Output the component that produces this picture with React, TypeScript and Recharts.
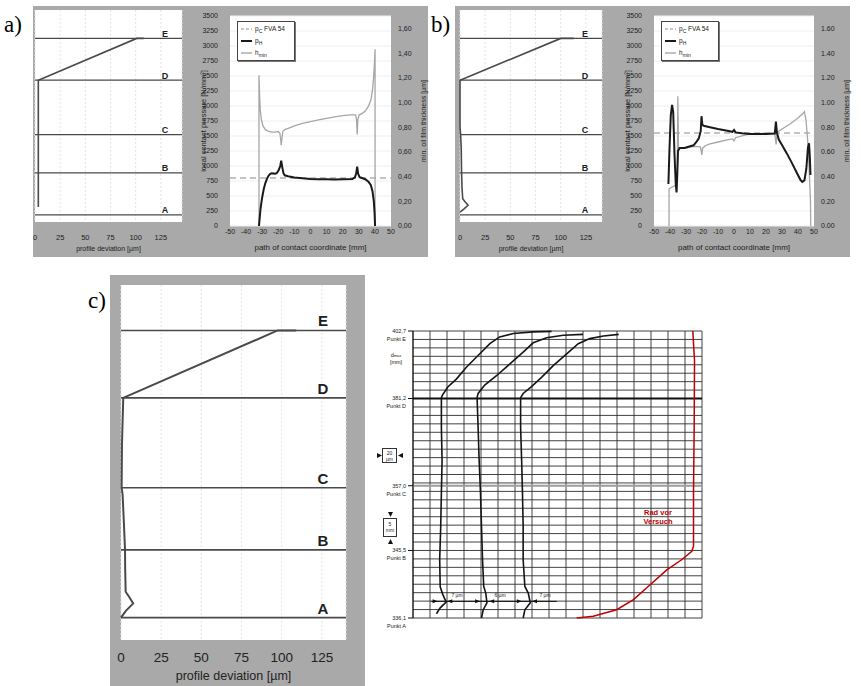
import React from 'react'
import {
  LineChart,
  ComposedChart,
  Line,
  Scatter,
  XAxis,
  YAxis,
  CartesianGrid,
  ReferenceLine,
  Legend,
} from 'recharts'

const PANEL_GRAY = '#a9a9a9'
const SANS = "'Liberation Sans', Arial, sans-serif"
const SERIF = "'Liberation Serif', 'DejaVu Serif', serif"

// ---- profile charts: flank position in % of plot height ----
const POINT_NAMES = ['A', 'B', 'C', 'D', 'E']
const POINT_POS_AB = [3.4, 23.2, 41.2, 66.9, 86.6]
const POINT_POS_C = [6.3, 25.4, 42.9, 68.2, 87.2]
const DEVIATION_TICKS = [0, 25, 50, 75, 100, 125]

const profileA = [
  { dev: 3.3, pos: 7.1 },
  { dev: 3.3, pos: 66.9 },
  { dev: 101, pos: 86.6 },
  { dev: 108, pos: 86.6 },
]
const profileB = [
  { dev: 0, pos: 4.7 },
  { dev: 4, pos: 6.2 },
  { dev: 8, pos: 7.9 },
  { dev: 5, pos: 9.6 },
  { dev: 2.7, pos: 11 },
  { dev: 2, pos: 16 },
  { dev: 1.5, pos: 25 },
  { dev: 1.2, pos: 35 },
  { dev: 0.6, pos: 41.2 },
  { dev: 0, pos: 45 },
  { dev: 0, pos: 66.9 },
  { dev: 100, pos: 86.6 },
  { dev: 113, pos: 86.6 },
]
const profileC = [
  { dev: 0, pos: 6.3 },
  { dev: 3, pos: 8.2 },
  { dev: 7.6, pos: 10.3 },
  { dev: 5, pos: 12.2 },
  { dev: 2.9, pos: 13.6 },
  { dev: 2.6, pos: 20 },
  { dev: 2.5, pos: 25.4 },
  { dev: 1.8, pos: 33 },
  { dev: 1, pos: 40.9 },
  { dev: 0.4, pos: 42.9 },
  { dev: 0.6, pos: 55 },
  { dev: 1.4, pos: 68.2 },
  { dev: 97.5, pos: 87.2 },
  { dev: 109, pos: 87.2 },
]

// ---- contact pressure / film thickness ----
const PATH_TICKS = [-50, -40, -30, -20, -10, 0, 10, 20, 30, 40, 50]
const PRESSURE_TICKS = [0, 250, 500, 750, 1000, 1250, 1500, 1750, 2000, 2250, 2500, 2750, 3000, 3250, 3500]
const FILM_TICKS = [0, 0.2, 0.4, 0.6, 0.8, 1.0, 1.2, 1.4, 1.6]

const pcA = [{ x: -50, p: 800 }, { x: 50, p: 800 }]
const pHA = [
  { x: -32, p: 0 }, { x: -31.5, p: 150 }, { x: -31, p: 300 }, { x: -30, p: 480 },
  { x: -29, p: 620 }, { x: -28, p: 720 }, { x: -27, p: 790 }, { x: -26, p: 840 },
  { x: -25, p: 870 }, { x: -24, p: 880 }, { x: -23, p: 875 }, { x: -22, p: 870 },
  { x: -21, p: 880 }, { x: -19.8, p: 930 }, { x: -18.8, p: 1000 }, { x: -18.2, p: 1090 },
  { x: -17.6, p: 990 }, { x: -16.8, p: 880 }, { x: -16, p: 845 }, { x: -14, p: 830 },
  { x: -10, p: 810 }, { x: -5, p: 795 }, { x: 0, p: 785 }, { x: 5, p: 780 },
  { x: 10, p: 778 }, { x: 15, p: 776 }, { x: 20, p: 778 }, { x: 26, p: 782 },
  { x: 27.6, p: 810 }, { x: 28.4, p: 880 }, { x: 29, p: 990 }, { x: 29.6, p: 870 },
  { x: 30.5, p: 815 }, { x: 32, p: 800 }, { x: 34, p: 780 }, { x: 36, p: 740 },
  { x: 37.5, p: 680 }, { x: 38.5, p: 580 }, { x: 39.3, p: 420 }, { x: 39.8, p: 220 },
  { x: 40.1, p: 0 },
]
const hMinA = [
  { x: -32, h: 0 }, { x: -32, h: 1.22 }, { x: -31.6, h: 1.05 }, { x: -31.2, h: 0.94 },
  { x: -30.5, h: 0.86 }, { x: -29.5, h: 0.81 }, { x: -28, h: 0.78 }, { x: -26, h: 0.765 },
  { x: -24, h: 0.76 }, { x: -22, h: 0.76 }, { x: -20, h: 0.765 }, { x: -19, h: 0.75 },
  { x: -18.5, h: 0.7 }, { x: -18.2, h: 0.655 }, { x: -17.8, h: 0.7 }, { x: -17.2, h: 0.765 },
  { x: -16, h: 0.78 }, { x: -13, h: 0.795 }, { x: -10, h: 0.81 }, { x: -5, h: 0.83 },
  { x: 0, h: 0.845 }, { x: 5, h: 0.86 }, { x: 10, h: 0.872 }, { x: 15, h: 0.884 },
  { x: 20, h: 0.893 }, { x: 25, h: 0.9 }, { x: 28, h: 0.9 }, { x: 28.6, h: 0.86 },
  { x: 29, h: 0.74 }, { x: 29.4, h: 0.86 }, { x: 30.2, h: 0.9 }, { x: 32, h: 0.91 },
  { x: 34, h: 0.93 }, { x: 36, h: 0.97 }, { x: 37.5, h: 1.02 }, { x: 38.5, h: 1.1 },
  { x: 39.3, h: 1.22 }, { x: 39.8, h: 1.34 }, { x: 40.1, h: 1.43 }, { x: 40.1, h: 0 },
]

const pcB = [{ x: -50, p: 1550 }, { x: 50, p: 1550 }]
const pHB = [
  { x: -41, p: 700 }, { x: -40.3, p: 1300 }, { x: -39.5, p: 1850 }, { x: -38.7, p: 2020 },
  { x: -38, p: 1900 }, { x: -37.2, p: 1200 }, { x: -36.4, p: 700 }, { x: -35.9, p: 560 },
  { x: -35.4, p: 900 }, { x: -35, p: 1250 }, { x: -34, p: 1300 }, { x: -31, p: 1300 },
  { x: -28.4, p: 1320 }, { x: -25.3, p: 1345 }, { x: -23.5, p: 1400 }, { x: -22, p: 1460 },
  { x: -20.8, p: 1580 }, { x: -20.3, p: 1830 }, { x: -19.8, p: 1690 }, { x: -19, p: 1670 },
  { x: -15, p: 1645 }, { x: -10, p: 1615 }, { x: -5, p: 1590 }, { x: -1, p: 1570 },
  { x: 0, p: 1600 }, { x: 1, p: 1560 }, { x: 5, p: 1545 }, { x: 10, p: 1535 },
  { x: 20, p: 1535 }, { x: 25.5, p: 1540 }, { x: 26.2, p: 1740 }, { x: 26.8, p: 1560 },
  { x: 28, p: 1440 }, { x: 30, p: 1350 }, { x: 33, p: 1210 }, { x: 36, p: 1060 },
  { x: 39, p: 900 }, { x: 41.5, p: 770 }, { x: 42.7, p: 735 }, { x: 44, p: 760 },
  { x: 45.2, p: 950 }, { x: 46.2, p: 1300 }, { x: 46.9, p: 1380 }, { x: 47.4, p: 1150 },
  { x: 47.8, p: 850 },
]
const hMinB = [
  { x: -40.6, h: 0 }, { x: -40.6, h: 0.3 }, { x: -39.5, h: 0.31 }, { x: -38, h: 0.32 },
  { x: -36.5, h: 0.33 }, { x: -35.5, h: 0.4 }, { x: -35.1, h: 1.05 }, { x: -34.7, h: 0.62 },
  { x: -33, h: 0.63 }, { x: -30, h: 0.63 }, { x: -27, h: 0.64 }, { x: -24, h: 0.645 },
  { x: -21, h: 0.64 }, { x: -20.4, h: 0.6 }, { x: -20.1, h: 0.575 }, { x: -19.6, h: 0.63 },
  { x: -18, h: 0.65 }, { x: -15, h: 0.665 }, { x: -10, h: 0.68 }, { x: -5, h: 0.695 },
  { x: -1, h: 0.705 }, { x: 0, h: 0.69 }, { x: 1, h: 0.715 }, { x: 5, h: 0.73 },
  { x: 10, h: 0.745 }, { x: 20, h: 0.75 }, { x: 25.5, h: 0.75 }, { x: 26.3, h: 0.66 },
  { x: 27, h: 0.76 }, { x: 30, h: 0.785 }, { x: 35, h: 0.825 }, { x: 40, h: 0.875 },
  { x: 43, h: 0.91 }, { x: 44, h: 0.925 }, { x: 45, h: 0.86 }, { x: 46, h: 0.7 },
  { x: 47, h: 0.45 }, { x: 47.8, h: 0.2 }, { x: 48, h: 0 },
]

// ---- wheel profile measurement (grid columns / rows) ----
const MEAS_COLS = Array.from({ length: 18 }, (_, i) => i)
const MEAS_ROWS = Array.from({ length: 35 }, (_, i) => i)
const MEAS_TICKS = [0, 8, 15.67, 26, 34]
const MEAS_TICK_VALUES = ['336,1', '345,5', '357,0', '381,2', '402,7']
const MEAS_TICK_NAMES = ['Punkt A', 'Punkt B', 'Punkt C', 'Punkt D', 'Punkt E']

const trace1 = [
  { col: 1.38, row: 0.5 }, { col: 1.6, row: 1.2 }, { col: 1.95, row: 1.9 }, { col: 1.75, row: 2.8 },
  { col: 1.6, row: 3.7 }, { col: 1.57, row: 6.9 }, { col: 1.63, row: 10.8 }, { col: 1.67, row: 14.8 },
  { col: 1.71, row: 18.7 }, { col: 1.67, row: 22.6 }, { col: 1.67, row: 26.1 }, { col: 1.73, row: 26.4 },
  { col: 2.06, row: 27.4 }, { col: 2.55, row: 28.3 }, { col: 3.14, row: 29.7 }, { col: 3.93, row: 31.3 },
  { col: 4.52, row: 32.5 }, { col: 5.1, row: 33.3 }, { col: 5.9, row: 33.7 }, { col: 7.07, row: 33.9 },
  { col: 8.15, row: 33.95 },
]
const trace2 = [
  { col: 4.03, row: 0 }, { col: 4.13, row: 0.98 }, { col: 4.35, row: 1.8 }, { col: 4.28, row: 2.95 },
  { col: 4.16, row: 3.74 }, { col: 4.09, row: 6.9 }, { col: 4.03, row: 10.8 }, { col: 3.97, row: 14.8 },
  { col: 3.89, row: 18.7 }, { col: 3.83, row: 22.6 }, { col: 3.77, row: 26.1 }, { col: 3.83, row: 26.6 },
  { col: 4.22, row: 27.6 }, { col: 4.91, row: 28.7 }, { col: 5.7, row: 30.1 }, { col: 6.48, row: 31.5 },
  { col: 7.07, row: 32.6 }, { col: 7.86, row: 33.2 }, { col: 8.84, row: 33.5 }, { col: 10.0, row: 33.6 },
]
const trace3 = [
  { col: 6.48, row: 0 }, { col: 6.58, row: 0.98 }, { col: 6.9, row: 1.8 }, { col: 6.78, row: 2.95 },
  { col: 6.58, row: 3.74 }, { col: 6.48, row: 6.9 }, { col: 6.48, row: 10.8 }, { col: 6.44, row: 14.8 },
  { col: 6.39, row: 18.7 }, { col: 6.33, row: 22.6 }, { col: 6.33, row: 26.1 }, { col: 6.48, row: 26.6 },
  { col: 6.97, row: 27.4 }, { col: 7.56, row: 28.5 }, { col: 8.25, row: 29.9 }, { col: 9.04, row: 31.3 },
  { col: 9.72, row: 32.5 }, { col: 10.4, row: 33.1 }, { col: 11.2, row: 33.4 }, { col: 12.1, row: 33.6 },
]
const wheelBefore = [
  { col: 9.63, row: 0 }, { col: 10.6, row: 0.2 }, { col: 11.98, row: 0.98 }, { col: 12.97, row: 2.17 },
  { col: 13.95, row: 3.94 }, { col: 14.93, row: 5.7 }, { col: 15.8, row: 6.9 }, { col: 16.4, row: 7.9 },
  { col: 16.5, row: 8.5 }, { col: 16.5, row: 14.8 }, { col: 16.54, row: 22.6 }, { col: 16.56, row: 30.5 },
  { col: 16.5, row: 32.5 }, { col: 16.46, row: 34 },
]
const dimArrows = [
  { col: 1.45, row: 1.97, dir: 1 }, { col: 2.02, row: 1.97, dir: -1 },
  { col: 3.95, row: 1.97, dir: 1 }, { col: 4.48, row: 1.97, dir: -1 },
  { col: 6.4, row: 1.97, dir: 1 }, { col: 7.0, row: 1.97, dir: -1 },
]

const PointLetter = (props: any) => {
  const { viewBox, letter, fs, inset, lift } = props
  if (!viewBox) return null
  return (
    <text x={viewBox.x + viewBox.width - inset} y={viewBox.y - lift} textAnchor="middle"
      fontSize={fs} fontWeight="bold" fill="#1e1e1e" fontFamily={SANS}>
      {letter}
    </text>
  )
}

const AxisTitle = (props: any) => {
  const { viewBox, caption, fs, shift } = props
  if (!viewBox) return null
  return (
    <text x={viewBox.x + viewBox.width / 2} y={viewBox.y + shift} textAnchor="middle"
      dominantBaseline="central" fontSize={fs} fill="#222" fontFamily={SANS}>
      {caption}
    </text>
  )
}

const SideTitle = (props: any) => {
  const { viewBox, caption, fs, shift } = props
  if (!viewBox) return null
  const x = viewBox.x + shift
  const y = viewBox.y + viewBox.height / 2
  return (
    <text x={x} y={y} transform={`rotate(-90, ${x}, ${y})`} textAnchor="middle"
      dominantBaseline="central" fontSize={fs} fill="#222" fontFamily={SANS}>
      {caption}
    </text>
  )
}

function ProfileChart({ plotLeft, plotTop, plotW, plotH, maxDev, data, positions, big }: any) {
  const m = 8
  const axisH = big ? 44 : 32
  const tickFs = big ? 13.5 : 7.5
  return (
    <div style={{ position: 'absolute', left: plotLeft - m, top: plotTop - 4 }}>
      <LineChart width={plotW + 2 * m} height={4 + plotH + axisH}
        margin={{ top: 4, right: m, bottom: 0, left: m }}>
        <CartesianGrid fill="#fff" stroke="#e4e4e4" strokeDasharray="2 2" horizontal={false} />
        <XAxis type="number" dataKey="dev" domain={[0, maxDev]} ticks={DEVIATION_TICKS} interval={0}
          height={axisH} tickSize={0} tickMargin={big ? 12 : 12.8} axisLine={false}
          tick={{ fontSize: tickFs, fill: '#222', fontFamily: SANS }}
          label={<AxisTitle caption="profile deviation [µm]" fs={big ? 12.5 : 7} shift={big ? 36 : 26} />} />
        <YAxis type="number" dataKey="pos" domain={[0, 100]} hide />
        {positions.map((pos: number, i: number) => (
          <ReferenceLine key={POINT_NAMES[i]} y={pos} stroke="#4a4a4a" strokeWidth={big ? 1.6 : 1.2}
            label={<PointLetter letter={POINT_NAMES[i]} fs={big ? 15 : 9} inset={big ? 23 : 17} lift={big ? 4 : 1.5} />} />
        ))}
        <Line data={data} dataKey="pos" stroke="#4a4a4a" strokeWidth={big ? 2 : 1.6} dot={false}
          isAnimationActive={false} />
      </LineChart>
    </div>
  )
}

const Sub = ({ children }: any) => (
  <span style={{ fontSize: 5, position: 'relative', top: 1.5 }}>{children}</span>
)

const LegendRow = ({ kind, children }: any) => (
  <div style={{ display: 'flex', alignItems: 'center', height: 12, whiteSpace: 'nowrap' }}>
    <svg width={11} height={6} style={{ marginRight: 3, flex: 'none' }}>
      {kind === 'pc' && <line x1={0} y1={3} x2={11} y2={3} stroke="#8a8a8a" strokeWidth={1.2} strokeDasharray="3 2" />}
      {kind === 'ph' && <line x1={0} y1={3} x2={11} y2={3} stroke="#1a1a1a" strokeWidth={2} />}
      {kind === 'h' && <line x1={0} y1={3} x2={11} y2={3} stroke="#a6a6a6" strokeWidth={1.4} />}
    </svg>
    <span>{children}</span>
  </div>
)

const PressureLegend = () => (
  <div style={{
    border: '1px solid #444', background: '#fff', padding: '1px 3px', width: 50,
    fontSize: 6.5, lineHeight: '12px', color: '#222', fontFamily: SANS,
    boxShadow: '1px 1px 0 #777',
  }}>
    <LegendRow kind="pc">p<Sub>C</Sub> FVA 54</LegendRow>
    <LegendRow kind="ph">p<Sub>H</Sub></LegendRow>
    <LegendRow kind="h">h<Sub>min</Sub></LegendRow>
  </div>
)

function PressureChart({ plotLeft, plotW, pc, pH, hMin, comma }: any) {
  const yW = 36
  const rW = 40
  const mT = 4
  const plotH = 210
  const xH = 30
  const fmt = (v: number) => (comma ? v.toFixed(2).replace('.', ',') : v.toFixed(2))
  return (
    <div style={{ position: 'absolute', left: plotLeft - yW, top: 16 - mT }}>
      <LineChart width={yW + plotW + rW} height={mT + plotH + xH}
        margin={{ top: mT, right: 0, bottom: 0, left: 0 }}>
        <CartesianGrid fill="#fff" stroke="#efefef" vertical={false} yAxisId="p" />
        <XAxis type="number" dataKey="x" domain={[-50, 50]} ticks={PATH_TICKS} interval={0}
          height={xH} tickSize={0} tickMargin={3} axisLine={false}
          tick={{ fontSize: 7, fill: '#222', fontFamily: SANS }}
          label={<AxisTitle caption="path of contact coordinate [mm]" fs={8} shift={21.5} />} />
        <YAxis yAxisId="p" type="number" domain={[0, 3500]} ticks={PRESSURE_TICKS} interval={0}
          width={yW} tickSize={0} tickMargin={12} axisLine={false}
          tick={{ fontSize: 7, fill: '#222', fontFamily: SANS }}
          label={<SideTitle caption="local contact pressure [N/mm²]" fs={7.5} shift={9} />} />
        <YAxis yAxisId="h" orientation="right" type="number" domain={[0, 1.7]} ticks={FILM_TICKS}
          interval={0} tickFormatter={fmt} width={rW} tickSize={0} tickMargin={7} axisLine={false}
          tick={{ fontSize: 7, fill: '#222', fontFamily: SANS }}
          label={<SideTitle caption="min. oil film thickness [µm]" fs={7} shift={32.5} />} />
        <Line yAxisId="p" data={pc} dataKey="p" stroke="#8a8a8a" strokeWidth={1.2}
          strokeDasharray="6 4" dot={false} isAnimationActive={false} />
        <Line yAxisId="h" data={hMin} dataKey="h" stroke="#a6a6a6" strokeWidth={1.3}
          dot={false} isAnimationActive={false} />
        <Line yAxisId="p" data={pH} dataKey="p" stroke="#1a1a1a" strokeWidth={2}
          dot={false} isAnimationActive={false} />
        <Legend layout="vertical" align="center" verticalAlign="middle"
          wrapperStyle={{ left: 43, top: 9, width: 60, height: 42 }}
          content={() => <PressureLegend />} />
      </LineChart>
    </div>
  )
}

const MeasTick = (props: any) => {
  const { x, y, payload } = props
  const i = MEAS_TICKS.indexOf(payload.value)
  if (i < 0) return null
  return (
    <text x={x} y={y} textAnchor="end" fontSize={5.5} fill="#222" fontFamily={SANS}>
      <tspan x={x} dy="0.35em">{MEAS_TICK_VALUES[i]}</tspan>
      <tspan x={x} dy="8">{MEAS_TICK_NAMES[i]}</tspan>
    </text>
  )
}

const Arrowhead = (props: any) => {
  const { cx, cy, payload } = props
  if (cx == null || cy == null) return null
  const d = payload.dir
  return <path d={`M${cx},${cy} L${cx - 5 * d},${cy - 2} L${cx - 5 * d},${cy + 2} Z`} fill="#111" />
}

function MeasurementChart() {
  const yW = 50
  return (
    <div style={{ position: 'absolute', left: 413 - yW, top: 331 - 5 }}>
      <ComposedChart width={yW + 289 + 6} height={5 + 287 + 14}
        margin={{ top: 5, right: 6, bottom: 14, left: 0 }}>
        <XAxis type="number" dataKey="col" domain={[0, 17]} hide />
        <YAxis type="number" dataKey="row" domain={[0, 34]} ticks={MEAS_TICKS} interval={0}
          width={yW} tickSize={5} tickMargin={2} tickLine={{ stroke: '#111' }}
          axisLine={{ stroke: '#111' }} tick={<MeasTick />} />
        {MEAS_ROWS.map((r) => (
          <ReferenceLine key={`r${r}`} y={r} stroke="#2e2e2e" strokeWidth={0.9} />
        ))}
        {MEAS_COLS.map((c) => (
          <ReferenceLine key={`c${c}`} x={c} stroke="#2e2e2e" strokeWidth={0.9} />
        ))}
        <ReferenceLine y={15.67} stroke="#9c9c9c" strokeWidth={2} />
        <ReferenceLine y={26} stroke="#111" strokeWidth={2} />
        <ReferenceLine segment={[{ x: 1.08, y: 1.97 }, { x: 8.46, y: 1.97 }]} stroke="#111" strokeWidth={1} />
        <Line data={trace1} dataKey="row" stroke="#151515" strokeWidth={1.6} dot={false} isAnimationActive={false} />
        <Line data={trace2} dataKey="row" stroke="#151515" strokeWidth={1.6} dot={false} isAnimationActive={false} />
        <Line data={trace3} dataKey="row" stroke="#151515" strokeWidth={1.6} dot={false} isAnimationActive={false} />
        <Line data={wheelBefore} dataKey="row" stroke="#c00000" strokeWidth={1.5} dot={false} isAnimationActive={false} />
        <Scatter data={dimArrows} dataKey="row" shape={<Arrowhead />} isAnimationActive={false} />
      </ComposedChart>
    </div>
  )
}

const Txt = ({ x, y, fs, children, color, bold, align }: any) => (
  <div style={{
    position: 'absolute', left: x, top: y, fontSize: fs, lineHeight: 1, color: color || '#222',
    fontWeight: bold ? 'bold' : 'normal', fontFamily: SANS, whiteSpace: 'nowrap',
    transform: align === 'center' ? 'translate(-50%, -50%)' : 'translateY(-50%)', textAlign: 'center',
  }}>
    {children}
  </div>
)

const Tri = ({ x, y, dir }: any) => {
  const s = 2.5
  const pts: Record<string, string> = {
    right: `0,0 ${2 * s},${s} 0,${2 * s}`,
    left: `${2 * s},0 0,${s} ${2 * s},${2 * s}`,
    down: `0,0 ${2 * s},0 ${s},${2 * s}`,
    up: `${s},0 ${2 * s},${2 * s} 0,${2 * s}`,
  }
  return (
    <svg width={2 * s} height={2 * s} style={{ position: 'absolute', left: x - s, top: y - s }}>
      <polygon points={pts[dir]} fill="#111" />
    </svg>
  )
}

export default function App() {
  return (
    <div style={{ position: 'absolute', left: 0, top: 0, width: 861, height: 686, background: '#fff', overflow: 'hidden', fontFamily: SANS }}>
      {/* panel a */}
      <div style={{ position: 'absolute', left: 33, top: 6, width: 395, height: 251, background: PANEL_GRAY }} />
      <div style={{ position: 'absolute', left: 4, top: 13, fontSize: 23, lineHeight: '24px', fontFamily: SERIF }}>a)</div>
      <ProfileChart plotLeft={35} plotTop={10} plotW={147} plotH={212} maxDev={146}
        data={profileA} positions={POINT_POS_AB} />
      <PressureChart plotLeft={230} plotW={161} pc={pcA} pH={pHA} hMin={hMinA} comma />

      {/* panel b */}
      <div style={{ position: 'absolute', left: 455, top: 6, width: 395, height: 251, background: PANEL_GRAY }} />
      <div style={{ position: 'absolute', left: 431, top: 13, fontSize: 23, lineHeight: '24px', fontFamily: SERIF }}>b)</div>
      <ProfileChart plotLeft={460} plotTop={10} plotW={142} plotH={212} maxDev={141}
        data={profileB} positions={POINT_POS_AB} />
      <PressureChart plotLeft={654} plotW={160} pc={pcB} pH={pHB} hMin={hMinB} />

      {/* panel c */}
      <div style={{ position: 'absolute', left: 110, top: 275, width: 255, height: 411, background: PANEL_GRAY }} />
      <div style={{ position: 'absolute', left: 88, top: 289, fontSize: 23, lineHeight: '24px', fontFamily: SERIF }}>c)</div>
      <ProfileChart plotLeft={121} plotTop={285} plotW={225} plotH={355} maxDev={140}
        data={profileC} positions={POINT_POS_C} big />
      <MeasurementChart />

      {/* measurement annotations */}
      <Txt x={396} y={356} fs={5.5} align="center">d<span style={{ fontSize: 4 }}>max</span></Txt>
      <Txt x={396} y={363} fs={5.5} align="center">[mm]</Txt>
      <div style={{ position: 'absolute', left: 382, top: 448, width: 15, height: 15, border: '1px solid #333', background: '#fff', boxSizing: 'border-box' }} />
      <Txt x={389.5} y={453} fs={5} align="center">20</Txt>
      <Txt x={389.5} y={459} fs={5} align="center">µm</Txt>
      <Tri x={379} y={455.5} dir="right" />
      <Tri x={400} y={455.5} dir="left" />
      <div style={{ position: 'absolute', left: 383, top: 518, width: 14, height: 19, border: '1px solid #333', background: '#fff', boxSizing: 'border-box' }} />
      <Txt x={390} y={524} fs={5} align="center">5</Txt>
      <Txt x={390} y={530} fs={5} align="center">mm</Txt>
      <Tri x={390} y={514} dir="down" />
      <Tri x={390} y={541} dir="up" />
      <Txt x={457} y={595} fs={5} align="center">7 µm</Txt>
      <Txt x={500} y={595} fs={5} align="center">6 µm</Txt>
      <Txt x={545} y={595} fs={5} align="center">7 µm</Txt>
      <Txt x={658} y={513} fs={7.5} color="#c00000" bold align="center">Rad vor</Txt>
      <Txt x={658} y={522} fs={7.5} color="#c00000" bold align="center">Versuch</Txt>
    </div>
  )
}
